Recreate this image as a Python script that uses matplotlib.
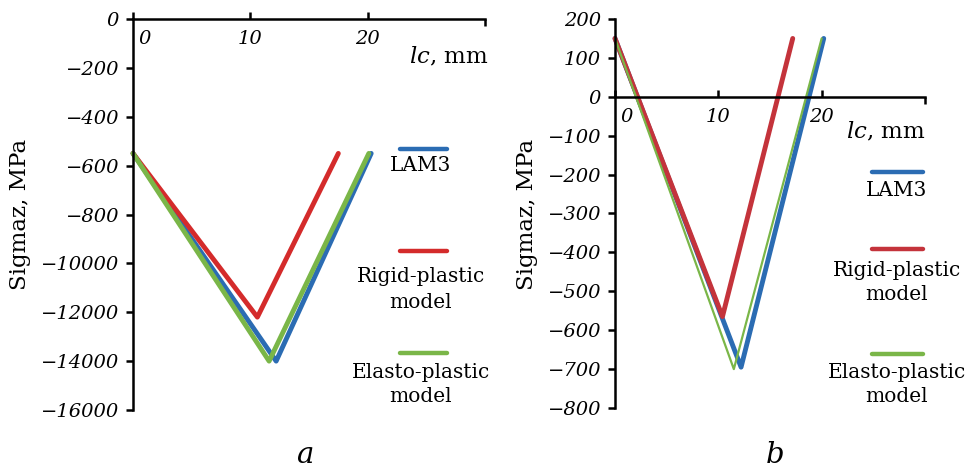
import matplotlib.pyplot as plt
from matplotlib.lines import Line2D
from matplotlib.transforms import ScaledTranslation

plt.rcParams['font.family'] = 'DejaVu Serif'
plt.rcParams['mathtext.fontset'] = 'dejavuserif'

# Panel a
a_lam3_x = [0, 12.2, 20.3]
a_lam3_y = [-550, -1400, -550]
a_rigid_x = [0, 10.6, 17.5]
a_rigid_y = [-550, -1220, -550]
a_elasto_x = [0, 11.6, 20.1]
a_elasto_y = [-550, -1400, -550]
a_yticks = [0, -200, -400, -600, -800, -1000, -1200, -1400, -1600]
a_yticklabels = ['0', '−200', '−400', '−600', '−800', '−10000', '−12000', '−14000', '−16000']

# Panel b
b_lam3_x = [0, 12.2, 20.2]
b_lam3_y = [150, -695, 150]
b_rigid_x = [0, 10.4, 17.2]
b_rigid_y = [150, -565, 150]
b_elasto_x = [0, 11.5, 20.0]
b_elasto_y = [150, -700, 150]
b_yticks = [200, 100, 0, -100, -200, -300, -400, -500, -600, -700, -800]
b_yticklabels = ['200', '100', '0', '−100', '−200', '−300', '−400', '−500', '−600', '−700', '−800']

xticks = [0, 10, 20]
xticklabels = ['0', '10', '20']

blue = '#2b6cb3'
red = '#d42b2b'
red_b = '#c4333b'
green = '#7ab648'

W, H = 967, 468
fig = plt.figure(figsize=(W / 100, H / 100), dpi=100)


def fx(px):
    return px / W


def fy(py):
    return 1 - py / H


def setup_axes(ax, ylim, yticks, yticklabels):
    ax.set_xlim(0, 30)
    ax.set_ylim(*ylim)
    ax.spines['right'].set_visible(False)
    ax.spines['top'].set_visible(False)
    ax.spines['bottom'].set_position(('data', 0))
    for s in ['left', 'bottom']:
        ax.spines[s].set_linewidth(1.8)
    ax.set_yticks(yticks)
    ax.set_yticklabels(yticklabels, fontstyle='italic', fontsize=14)
    ax.set_xticks(xticks)
    ax.set_xticklabels(xticklabels, fontstyle='italic', fontsize=14)
    ax.set_xticks([30], minor=True)
    ax.tick_params(axis='y', direction='out', length=5, width=1.8, pad=5)
    ax.tick_params(axis='x', which='major', direction='in', length=5, width=1.8, pad=8)
    ax.tick_params(axis='x', which='minor', direction='out', length=5, width=1.8)
    # shift the "0" label off the y axis
    lbl = ax.get_xticklabels()[0]
    lbl.set_transform(lbl.get_transform() + ScaledTranslation(12 / 100, 0, fig.dpi_scale_trans))


def legend(lx0, lx1, ly, tx, ty, text, color):
    fig.add_artist(Line2D([fx(lx0), fx(lx1)], [fy(ly), fy(ly)], color=color, lw=3.2,
                          solid_capstyle='round', transform=fig.transFigure))
    for t, y in zip(text, ty):
        fig.text(fx(tx), fy(y), t, ha='center', va='center', fontsize=14.5)


kw = dict(lw=3.5, solid_capstyle='round', solid_joinstyle='round', clip_on=False)

# ---- panel a
ax1 = fig.add_axes([fx(133), fy(410), fx(485) - fx(133), fy(19) - fy(410)])
setup_axes(ax1, (-1600, 0), a_yticks, a_yticklabels)
ax1.plot(a_lam3_x, a_lam3_y, color=blue, **kw)
ax1.plot(a_rigid_x, a_rigid_y, color=red, **kw)
ax1.plot(a_elasto_x, a_elasto_y, color=green, **kw)
fig.text(fx(488), fy(57), r'$lc$, mm', ha='right', va='center', fontsize=16.5)
fig.text(fx(305), fy(455), 'a', ha='center', va='center', fontsize=21, fontstyle='italic')

legend(400, 447, 149, 421, [165], ['LAM3'], blue)
legend(400, 447, 251, 421, [277, 302], ['Rigid-plastic', 'model'], red)
legend(400, 447, 353, 421, [372, 397], ['Elasto-plastic', 'model'], green)

# ---- panel b
ax2 = fig.add_axes([fx(615), fy(408), fx(925) - fx(615), fy(19) - fy(408)])
setup_axes(ax2, (-800, 200), b_yticks, b_yticklabels)
ax2.plot(b_lam3_x, b_lam3_y, color=blue, **kw)
ax2.plot(b_rigid_x, b_rigid_y, color=red_b, **kw)
ax2.plot(b_elasto_x, b_elasto_y, color=green, lw=1.6, solid_capstyle='round', clip_on=False)
fig.text(fx(925), fy(132), r'$lc$, mm', ha='right', va='center', fontsize=16.5)
fig.text(fx(775), fy(455), 'b', ha='center', va='center', fontsize=21, fontstyle='italic')

legend(872, 923, 172, 897, [190], ['LAM3'], blue)
legend(872, 923, 249, 897, [270, 295], ['Rigid-plastic', 'model'], red_b)
legend(872, 923, 354, 897, [373, 397], ['Elasto-plastic', 'model'], green)

# y labels placed in figure coordinates
fig.text(fx(20), fy(214), 'Sigmaz, MPa', rotation=90, ha='center', va='center', fontsize=16.5)
fig.text(fx(527), fy(214), 'Sigmaz, MPa', rotation=90, ha='center', va='center', fontsize=16.5)

fig.savefig('out.png', dpi=100)
